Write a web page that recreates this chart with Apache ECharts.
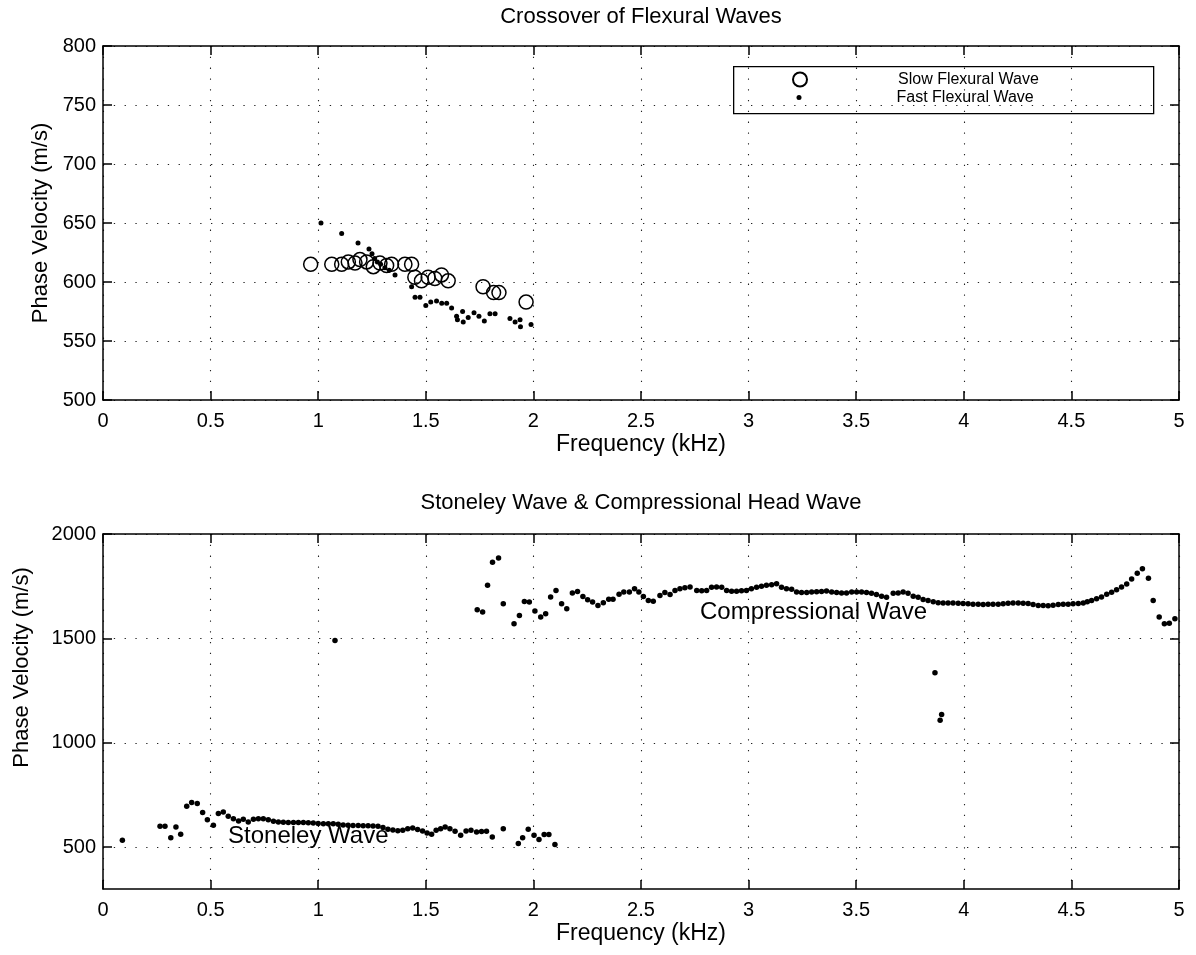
<!DOCTYPE html>
<html>
<head>
<meta charset="utf-8">
<title>Flexural, Stoneley and Compressional Waves</title>
<script src="https://cdn.jsdelivr.net/npm/echarts@6/dist/echarts.min.js"></script>
<style>
  html, body { margin: 0; padding: 0; background: #fff; }
  #chart { width: 1196px; height: 955px; }
</style>
</head>
<body>
<div id="chart"></div>
<script>
// ---- Crossover of flexural waves (kHz, m/s) ----
const slowFreq = [0.965, 1.063, 1.109, 1.14, 1.171, 1.194, 1.225, 1.256, 1.287, 1.318, 1.341, 1.403, 1.434,
                  1.449, 1.48, 1.511, 1.542, 1.573, 1.604, 1.766, 1.815, 1.84, 1.966];
const slowVel  = [615, 615, 615, 617, 616, 619, 617, 613, 616, 614, 615, 615, 615,
                  604, 601, 604, 603, 606, 601, 596, 591, 591, 583];

const fastFreq = [1.013, 1.109, 1.185, 1.236, 1.25, 1.262, 1.275, 1.29, 1.31, 1.33, 1.357, 1.434, 1.45, 1.473,
                  1.50, 1.523, 1.55, 1.574, 1.597, 1.62, 1.643, 1.647, 1.671, 1.674, 1.697, 1.724, 1.747,
                  1.772, 1.798, 1.822, 1.891, 1.915, 1.938, 1.94, 1.989];
const fastVel  = [650, 641, 633, 628, 624, 620, 617, 615, 612, 610, 606, 596, 587, 587,
                  580, 583, 584, 582, 582, 578, 571, 568, 575, 566, 570, 574, 571,
                  567, 573, 573, 569, 566, 568, 562, 564];

// ---- Stoneley wave ----
const stoneleyFreq = [0.09, 0.265, 0.288, 0.315, 0.339, 0.361, 0.389, 0.412, 0.438, 0.463, 0.485, 0.513, 0.536,
                      0.559, 0.582, 0.606, 0.63, 0.652, 0.675, 0.699, 0.722, 0.745, 0.768, 0.792, 0.815, 0.838,
                      0.861, 0.885, 0.908, 0.931, 0.954, 0.977, 1.0, 1.024, 1.047, 1.07, 1.093, 1.116, 1.139,
                      1.162, 1.186, 1.209, 1.232, 1.255, 1.278, 1.301, 1.324, 1.347, 1.37, 1.393, 1.416, 1.439,
                      1.462, 1.485, 1.506, 1.527, 1.548, 1.569, 1.590, 1.612, 1.636, 1.662, 1.687, 1.710, 1.736,
                      1.759, 1.782, 1.809, 1.86, 1.93, 1.95, 1.976, 2.003, 2.026, 2.05, 2.072, 2.10];
const stoneleyVel  = [533, 600, 600, 546, 597, 562, 696, 714, 709, 666, 632, 605, 661,
                      669, 648, 637, 626, 634, 621, 634, 637, 636, 632, 625, 621, 620,
                      619, 619, 618, 618, 617, 616, 614, 613, 612, 612, 610, 606, 605,
                      604, 604, 603, 603, 602, 601, 594, 586, 582, 579, 581, 588, 592,
                      585, 578, 568, 562, 581, 589, 597, 589, 577, 557, 578, 581, 573,
                      575, 576, 549, 589, 518, 545, 586, 557, 537, 561, 561, 513];

// ---- Compressional head wave ----
const compFreq = [1.078, 1.739, 1.764, 1.787, 1.81, 1.838, 1.86, 1.91, 1.935, 1.958, 1.981, 2.007, 2.034, 2.057,
                  2.08, 2.105, 2.131, 2.155, 2.181, 2.205, 2.23, 2.252, 2.275, 2.30, 2.325, 2.35, 2.37,
                  2.398, 2.42, 2.446, 2.47, 2.49, 2.511, 2.534, 2.557, 2.588, 2.611, 2.635, 2.658, 2.681,
                  2.704, 2.728, 2.759, 2.782, 2.805, 2.828, 2.851, 2.875, 2.898, 2.921, 2.944, 2.967, 2.990,
                  3.013, 3.037, 3.060, 3.083, 3.107, 3.130, 3.153, 3.176, 3.200, 3.223, 3.246, 3.270, 3.293,
                  3.316, 3.339, 3.362, 3.386, 3.409, 3.432, 3.455, 3.479, 3.502, 3.525, 3.548, 3.571, 3.594,
                  3.618, 3.641, 3.672, 3.695, 3.718, 3.741, 3.765, 3.788, 3.811, 3.834, 3.858, 3.866, 3.881,
                  3.89, 3.897, 3.904, 3.927, 3.950, 3.974, 3.997, 4.020, 4.043, 4.067, 4.090, 4.113, 4.136,
                  4.160, 4.183, 4.206, 4.229, 4.253, 4.276, 4.299, 4.322, 4.346, 4.369, 4.392, 4.415, 4.439,
                  4.462, 4.485, 4.508, 4.532, 4.555, 4.574, 4.594, 4.617, 4.64, 4.664, 4.687, 4.71, 4.733,
                  4.757, 4.78, 4.806, 4.83, 4.858, 4.88, 4.908, 4.932, 4.955, 4.981];
const compVel  = [1490, 1637, 1626, 1754, 1865, 1885, 1666, 1570, 1610, 1677, 1674, 1631, 1602, 1618,
                  1698, 1730, 1666, 1642, 1717, 1725, 1701, 1685, 1674, 1658, 1671, 1687, 1687,
                  1711, 1722, 1722, 1738, 1722, 1701, 1682, 1678, 1706, 1720, 1710, 1730, 1738,
                  1743, 1746, 1730, 1728, 1730, 1745, 1746, 1745, 1730, 1726, 1726, 1728, 1730,
                  1738, 1745, 1750, 1754, 1757, 1762, 1745, 1738, 1735, 1722, 1720, 1720, 1722,
                  1724, 1725, 1727, 1722, 1720, 1718, 1717, 1722, 1722, 1722, 1720, 1716, 1710,
                  1702, 1697, 1716, 1718, 1722, 1716, 1702, 1697, 1686, 1682, 1676, 1336, 1671,
                  1108, 1136, 1669, 1669, 1669, 1668, 1667, 1666, 1664, 1663, 1662, 1663, 1663,
                  1664, 1666, 1668, 1669, 1669, 1668, 1667, 1662, 1658, 1658, 1657, 1659, 1662,
                  1663, 1664, 1666, 1667, 1670, 1676, 1682, 1690, 1698, 1711, 1721, 1733, 1746,
                  1761, 1785, 1812, 1833, 1788, 1682, 1602, 1570, 1573, 1594];

// ---- Axis ticks ----
const freqTicks = [0, 0.5, 1, 1.5, 2, 2.5, 3, 3.5, 4, 4.5, 5];
const topVelTicks = [500, 550, 600, 650, 700, 750, 800];
const bottomVelTicks = [500, 1000, 1500, 2000];

// ---- Text labels placed on the lower panel (left edge, vertical middle) ----
const waveLabels = [
  { name: 'Stoneley Wave', freq: 0.581, vel: 553 },
  { name: 'Compressional Wave', freq: 2.774, vel: 1624 }
];

const pairs = (xs, ys) => xs.map((x, i) => [x, ys[i]]);
const plain = v => String(v);

const FONT = '"Liberation Sans", Arial, Helvetica, sans-serif';
const INK = '#000';
const lineStyle = { color: INK, width: 1.5 };
const dotted = { color: '#222', width: 1.1, type: [1.3, 9.5] };

function mainX(grid, name) {
  return {
    gridIndex: grid, type: 'value', min: 0, max: 5, interval: 0.5, position: 'bottom',
    axisLine: { show: true, onZero: false, lineStyle },
    axisTick: { show: true, inside: true, length: 9, lineStyle, customValues: freqTicks },
    axisLabel: { show: true, color: INK, fontSize: 20, fontFamily: FONT, margin: 11,
                 customValues: freqTicks, formatter: plain },
    splitLine: { show: true, lineStyle: dotted },
    name, nameLocation: 'middle', nameGap: 33,
    nameTextStyle: { color: INK, fontSize: 23, fontFamily: FONT }
  };
}
function mirrorX(grid) {
  return {
    gridIndex: grid, type: 'value', min: 0, max: 5, interval: 0.5, position: 'top',
    axisLine: { show: true, onZero: false, lineStyle },
    axisTick: { show: true, inside: true, length: 9, lineStyle, customValues: freqTicks },
    axisLabel: { show: false }, splitLine: { show: false }
  };
}
function mainY(grid, min, max, ticks, nameGap, namePad) {
  return {
    gridIndex: grid, type: 'value', min, max, position: 'left',
    axisLine: { show: true, onZero: false, lineStyle },
    axisTick: { show: true, inside: true, length: 9, lineStyle, customValues: ticks },
    axisLabel: { show: true, color: INK, fontSize: 20, fontFamily: FONT, margin: 7,
                 customValues: ticks, formatter: plain },
    splitLine: { show: true, lineStyle: dotted },
    name: 'Phase Velocity (m/s)', nameLocation: 'middle', nameGap,
    nameTextStyle: { color: INK, fontSize: 22, fontFamily: FONT, padding: namePad }
  };
}
function mirrorY(grid, min, max, ticks) {
  return {
    gridIndex: grid, type: 'value', min, max, position: 'right',
    axisLine: { show: true, onZero: false, lineStyle },
    axisTick: { show: true, inside: true, length: 9, lineStyle, customValues: ticks },
    axisLabel: { show: false }, splitLine: { show: false }
  };
}

const legendText = { color: INK, fontSize: 16, fontFamily: FONT, lineHeight: 17 };
const solid = (c) => ({ color: c, opacity: 1 });

const option = {
  animation: false,
  backgroundColor: '#fff',
  title: [
    { text: 'Crossover of Flexural Waves', left: 641, top: 6, textAlign: 'center', padding: 0,
      textStyle: { color: INK, fontSize: 22, fontWeight: 'normal', fontFamily: FONT } },
    { text: 'Stoneley Wave & Compressional Head Wave', left: 641, top: 492, textAlign: 'center', padding: 0,
      textStyle: { color: INK, fontSize: 22, fontWeight: 'normal', fontFamily: FONT } }
  ],
  grid: [
    { left: 103, top: 46, width: 1076, height: 354 },
    { left: 103, top: 534, width: 1076, height: 355 }
  ],
  xAxis: [mainX(0, 'Frequency (kHz)'), mirrorX(0), mainX(1, 'Frequency (kHz)'), mirrorX(1)],
  yAxis: [
    mainY(0, 500, 800, topVelTicks, 50, [0, 0, 0, 0]),
    mirrorY(0, 500, 800, topVelTicks),
    mainY(1, 300, 2000, bottomVelTicks, 70, [0, 0, 0, 88]),
    mirrorY(1, 300, 2000, bottomVelTicks)
  ],
  legend: [
    { data: ['Slow Flexural Wave'], left: 792, top: 71, padding: 0, itemWidth: 14, itemHeight: 14,
      selectedMode: false, textStyle: Object.assign({ padding: [0, 0, 0, 86] }, legendText) },
    { data: ['Fast Flexural Wave'], left: 796.5, top: 89, padding: 0, itemWidth: 5, itemHeight: 5,
      selectedMode: false, textStyle: Object.assign({ padding: [0, 0, 0, 90] }, legendText) }
  ],
  graphic: [
    { type: 'rect', left: 733, top: 66, silent: true,
      shape: { width: 420, height: 47 },
      style: { fill: '#fff', stroke: INK, lineWidth: 1.3 }, z: 0 }
  ],
  series: [
    { name: 'Slow Flexural Wave', type: 'scatter', xAxisIndex: 0, yAxisIndex: 0,
      data: pairs(slowFreq, slowVel), symbol: 'circle', symbolSize: 14,
      itemStyle: { color: 'rgba(0,0,0,0)', borderColor: INK, borderWidth: 1.5, opacity: 1 }, z: 3 },
    { name: 'Fast Flexural Wave', type: 'scatter', xAxisIndex: 0, yAxisIndex: 0,
      data: pairs(fastFreq, fastVel), symbol: 'circle', symbolSize: 5,
      itemStyle: solid(INK), z: 4 },
    { name: 'Stoneley Wave', type: 'scatter', xAxisIndex: 2, yAxisIndex: 2,
      data: pairs(stoneleyFreq, stoneleyVel), symbol: 'circle', symbolSize: 5.5,
      itemStyle: solid(INK) },
    { name: 'Compressional Wave', type: 'scatter', xAxisIndex: 2, yAxisIndex: 2,
      data: pairs(compFreq, compVel), symbol: 'circle', symbolSize: 5.5,
      itemStyle: solid(INK) },
    { name: 'labels', type: 'scatter', xAxisIndex: 2, yAxisIndex: 2, silent: true, symbolSize: 0,
      data: waveLabels.map(d => ({ name: d.name, value: [d.freq, d.vel] })),
      label: { show: true, formatter: '{b}', position: [0, 0], align: 'left', verticalAlign: 'middle',
               color: INK, opacity: 1, fontSize: 24, fontFamily: FONT } }
  ]
};

const chart = echarts.init(document.getElementById('chart'), null, { renderer: 'canvas' });
chart.setOption(option);
</script>
</body>
</html>
